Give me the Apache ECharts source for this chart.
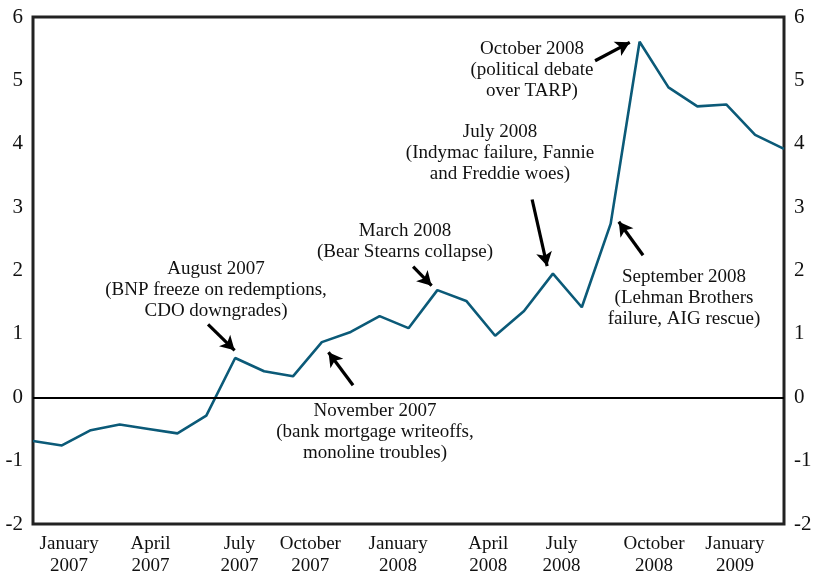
<!DOCTYPE html>
<html>
<head>
<meta charset="utf-8">
<script src="https://cdn.jsdelivr.net/npm/echarts@6/dist/echarts.min.js"></script>
<style>
  html, body { margin: 0; padding: 0; background: #fff; }
  #chart { width: 816px; height: 577px; }
</style>
</head>
<body>
<div id="chart"></div>
<script>
  // monthly points, January 2007 .. March 2009
  var months = ['2007-01','2007-02','2007-03','2007-04','2007-05','2007-06','2007-07','2007-08','2007-09',
    '2007-10','2007-11','2007-12','2008-01','2008-02','2008-03','2008-04','2008-05','2008-06','2008-07',
    '2008-08','2008-09','2008-10','2008-11','2008-12','2009-01','2009-02','2009-03'];
  var values = [-0.69, -0.76, -0.52, -0.43, -0.5, -0.57, -0.29, 0.62, 0.41, 0.33, 0.87, 1.03, 1.28, 1.09,
    1.69, 1.52, 0.97, 1.36, 1.95, 1.42, 2.74, 5.61, 4.89, 4.59, 4.62, 4.14, 3.92];

  // x tick labels and where they sit along the month index
  var tickPos = [1.25, 4.07, 7.15, 9.6, 12.64, 15.76, 18.3, 21.5, 24.3];
  var tickLabels = ['January\n2007', 'April\n2007', 'July\n2007', 'October\n2007', 'January\n2008',
    'April\n2008', 'July\n2008', 'October\n2008', 'January\n2009'];

  // arrows: [tailX, tailY, tipX, tipY] in data units
  var arrows = [
    [6.06, 1.15, 6.98, 0.74],
    [11.08, 0.19, 10.23, 0.71],
    [13.16, 2.06, 13.8, 1.76],
    [17.28, 3.12, 17.8, 2.07],
    [21.12, 2.24, 20.28, 2.77],
    [19.46, 5.31, 20.66, 5.6]
  ];
  var notes = [
    { text: 'August 2007\n(BNP freeze on redemptions,\nCDO downgrades)', x: 216, y: 259 },
    { text: 'November 2007\n(bank mortgage writeoffs,\nmonoline troubles)', x: 375, y: 401 },
    { text: 'March 2008\n(Bear Stearns collapse)', x: 405, y: 221 },
    { text: 'July 2008\n(Indymac failure, Fannie\nand Freddie woes)', x: 500, y: 122 },
    { text: 'September 2008\n(Lehman Brothers\nfailure, AIG rescue)', x: 684, y: 267 },
    { text: 'October 2008\n(political debate\nover TARP)', x: 532, y: 39 }
  ];

  var font = '"Liberation Serif", "DejaVu Serif", serif';
  var chart = echarts.init(document.getElementById('chart'));

  var yLabel = { color: '#111', fontFamily: font, fontSize: 21, margin: 10 };

  chart.setOption({
    animation: false,
    grid: {
      left: 33, right: 32, top: 17, bottom: 52,
      show: true, borderColor: '#222', borderWidth: 3, backgroundColor: 'transparent'
    },
    xAxis: {
      type: 'value', min: 0, max: months.length - 1,
      axisLine: { show: false }, axisTick: { show: false }, splitLine: { show: false },
      axisLabel: {
        customValues: tickPos,
        formatter: function (v) { return tickLabels[tickPos.indexOf(v)] || ''; },
        color: '#111', fontFamily: font, fontSize: 19, lineHeight: 22, margin: 9
      }
    },
    yAxis: [
      { type: 'value', min: -2, max: 6, interval: 1, axisLine: { show: false }, axisTick: { show: false },
        splitLine: { show: false }, axisLabel: yLabel },
      { type: 'value', min: -2, max: 6, interval: 1, position: 'right', axisLine: { show: false },
        axisTick: { show: false }, splitLine: { show: false }, axisLabel: yLabel }
    ],
    series: [{
      type: 'line',
      data: values.map(function (v, i) { return [i, v]; }),
      symbol: 'none',
      lineStyle: { color: '#0b5a78', width: 2.6 },
      markLine: {
        silent: true,
        animation: false,
        label: { show: false },
        data: [[
          { coord: [0, 0], symbol: 'none', lineStyle: { color: '#000', width: 2, type: 'solid' } },
          { coord: [months.length - 1, 0], symbol: 'none' }
        ]].concat(arrows.map(function (a) {
          return [
            { coord: [a[0], a[1]], symbol: 'none', lineStyle: { color: '#000', width: 3.2, type: 'solid' } },
            { coord: [a[2], a[3]], symbol: 'arrow', symbolSize: [12, 14] }
          ];
        }))
      }
    }],
    graphic: notes.map(function (n) {
      return {
        type: 'text', x: n.x, y: n.y, silent: true,
        style: { text: n.text, fill: '#111', font: '19px ' + font, lineHeight: 21, align: 'center' }
      };
    })
  });
</script>
</body>
</html>
